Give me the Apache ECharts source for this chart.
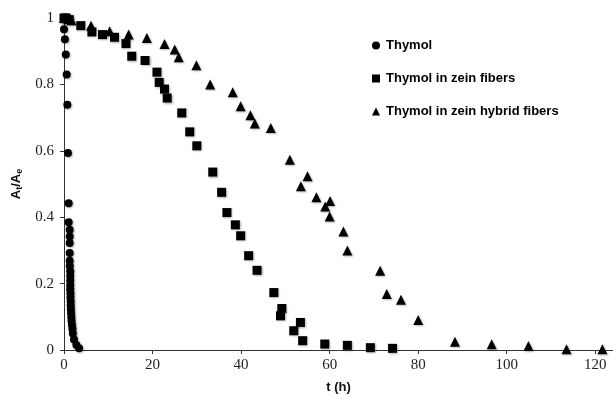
<!DOCTYPE html>
<html>
<head>
<meta charset="utf-8">
<script src="https://cdn.jsdelivr.net/npm/echarts@6/dist/echarts.min.js"></script>
<style>html,body{margin:0;padding:0;background:#fff}#c{width:613px;height:399px}</style>
</head>
<body>
<div id="c"></div>
<script>
var seriesNames = ['Thymol', 'Thymol in zein fibers', 'Thymol in zein hybrid fibers'];
var xTicks = [0, 20, 40, 60, 80, 100, 120];
var yTicks = [0, 0.2, 0.4, 0.6, 0.8, 1];

var thymolT = [0, 0.2, 0, 0.2, 0.4, 0.6, 0.75, 0.9, 1.05, 1.05, 1.28, 1.28, 1.28, 1.28, 1.28, 1.3, 1.4, 1.4, 1.4, 1.4, 1.4, 1.45, 1.45, 1.5, 1.5, 1.55, 1.6, 1.65, 1.7, 1.8, 1.9, 2.0, 2.26, 2.8, 3.4];
var thymolY = [1.0, 1.0, 0.966, 0.936, 0.89, 0.83, 0.739, 0.593, 0.442, 0.385, 0.362, 0.342, 0.322, 0.292, 0.269, 0.253, 0.237, 0.223, 0.209, 0.195, 0.183, 0.171, 0.159, 0.147, 0.135, 0.123, 0.111, 0.099, 0.087, 0.075, 0.063, 0.05, 0.032, 0.015, 0.005];

var zeinT = [0, 0.5, 1.2, 3.8, 6.3, 8.7, 11.4, 14.0, 15.3, 18.3, 21.0, 21.5, 22.7, 23.3, 26.6, 28.4, 30.0, 33.6, 35.6, 36.8, 38.7, 39.9, 41.7, 43.6, 47.4, 49.2, 48.9, 53.4, 51.9, 53.9, 58.9, 64.0, 69.2, 74.2];
var zeinY = [1.0, 1.0, 0.995, 0.977, 0.958, 0.950, 0.942, 0.923, 0.885, 0.872, 0.837, 0.806, 0.786, 0.759, 0.714, 0.657, 0.615, 0.536, 0.475, 0.414, 0.377, 0.344, 0.284, 0.240, 0.173, 0.125, 0.103, 0.083, 0.058, 0.028, 0.018, 0.014, 0.007, 0.005];

var hybridT = [0, 0.6, 1.7, 6.1, 10.3, 14.6, 18.7, 22.7, 25.0, 25.9, 29.9, 33.0, 38.1, 39.9, 42.1, 43.1, 46.7, 51.0, 55.0, 53.5, 57.0, 60.1, 59.0, 60.0, 63.1, 64.0, 71.4, 72.9, 76.1, 80.0, 88.3, 96.6, 104.9, 113.5, 121.6];
var hybridY = [1.0, 1.0, 0.993, 0.977, 0.96, 0.95, 0.94, 0.922, 0.905, 0.882, 0.858, 0.80, 0.776, 0.734, 0.707, 0.682, 0.669, 0.573, 0.523, 0.493, 0.46, 0.449, 0.432, 0.402, 0.357, 0.30, 0.239, 0.169, 0.151, 0.090, 0.025, 0.017, 0.012, 0.002, 0.002];

function zip(a, b) { return a.map(function (v, i) { return [v, b[i]]; }); }

var markStyle = {
  color: '#000',
  opacity: 1,
  shadowColor: 'rgba(0,0,0,0.3)',
  shadowBlur: 2,
  shadowOffsetX: 1,
  shadowOffsetY: 1
};

var chart = echarts.init(document.getElementById('c'), null, { renderer: 'canvas' });
chart.setOption({
  animation: false,
  backgroundColor: '#fff',
  grid: { left: 64, right: 0, top: 18, bottom: 49, containLabel: false },
  legend: {
    orient: 'vertical',
    left: 367,
    top: 34,
    itemGap: 20,
    itemWidth: 8,
    itemHeight: 8,
    itemStyle: { opacity: 1, color: '#000' },
    data: seriesNames,
    textStyle: { fontFamily: 'Liberation Sans', fontWeight: 'bold', fontSize: 13, color: '#000', padding: [0, 0, 0, 1] }
  },
  xAxis: {
    type: 'value',
    min: 0,
    max: 124,
    interval: 20,
    name: 't (h)',
    nameLocation: 'middle',
    nameGap: 31,
    nameTextStyle: { fontFamily: 'Liberation Sans', fontWeight: 'bold', fontSize: 13, color: '#111' },
    splitLine: { show: false },
    axisLine: { show: true, lineStyle: { color: '#333', width: 1 } },
    axisTick: { show: true, length: 4, lineStyle: { color: '#333' }, customValues: xTicks },
    axisLabel: {
      fontFamily: 'Liberation Serif', fontSize: 15, color: '#222', margin: 8,
      customValues: xTicks,
      formatter: function (v) { return xTicks.indexOf(v) >= 0 ? String(v) : ''; }
    }
  },
  yAxis: {
    type: 'value',
    min: 0,
    max: 1,
    interval: 0.2,
    name: '{m|A}{s|t}{m|/A}{s|e}',
    nameLocation: 'middle',
    nameGap: 36,
    nameTextStyle: {
      fontFamily: 'Liberation Sans', fontWeight: 'bold', fontSize: 13, color: '#111',
      rich: {
        m: { fontFamily: 'Liberation Sans', fontWeight: 'bold', fontSize: 13, color: '#111', lineHeight: 18 },
        s: { fontFamily: 'Liberation Sans', fontWeight: 'bold', fontSize: 9, color: '#111', lineHeight: 18, padding: [7, 0, 0, 0] }
      }
    },
    splitLine: { show: false },
    axisLine: { show: true, lineStyle: { color: '#333', width: 1 } },
    axisTick: { show: true, length: 4, lineStyle: { color: '#333' } },
    axisLabel: {
      fontFamily: 'Liberation Serif', fontSize: 15, color: '#222', margin: 10,
      formatter: function (v) { return String(Math.round(v * 10) / 10); }
    }
  },
  series: [
    { name: seriesNames[0], type: 'scatter', symbol: 'circle', symbolSize: 8, itemStyle: markStyle, data: zip(thymolT, thymolY), z: 3 },
    { name: seriesNames[1], type: 'scatter', symbol: 'rect', symbolSize: 9, itemStyle: markStyle, data: zip(zeinT, zeinY), z: 2 },
    { name: seriesNames[2], type: 'scatter', symbol: 'triangle', symbolSize: 10, itemStyle: markStyle, data: zip(hybridT, hybridY), z: 2 }
  ]
});
</script>
</body>
</html>
